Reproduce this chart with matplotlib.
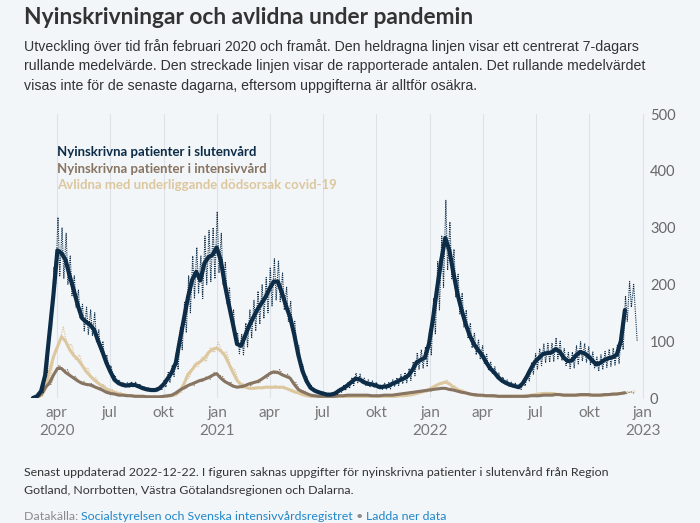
import numpy as np
import pandas as pd
import matplotlib
matplotlib.use("Agg")
import matplotlib.pyplot as plt

# ---------------- data ----------------
start_date = "2020-02-20"

# centred 7-day rolling mean, weekly samples
slutenvard = [
    0, 3, 12, 40, 110, 180, 260, 255, 243, 215,
    190, 163, 141, 134, 129, 120, 100, 82, 62, 46,
    32, 26, 23, 22, 23, 23, 20, 17, 15, 14,
    14, 17, 24, 34, 45, 62, 102, 140, 178, 208,
    222, 207, 237, 248, 252, 265, 243, 200, 164, 130,
    95, 92, 110, 128, 142, 156, 167, 178, 193, 205,
    205, 185, 162, 142, 112, 76, 48, 30, 18, 13,
    10, 8, 6, 6, 8, 13, 17, 22, 28, 34,
    33, 28, 25, 24, 22, 19, 20, 21, 25, 28,
    32, 35, 40, 50, 63, 67, 71, 95, 140, 193,
    242, 282, 260, 220, 183, 155, 130, 110, 95, 85,
    76, 63, 52, 45, 36, 30, 26, 23, 21, 19,
    26, 38, 52, 64, 71, 78, 79, 80, 86, 82,
    71, 65, 66, 75, 81, 79, 74, 66, 59, 62,
    67, 70, 72, 76, 100, 155,
]
intensivvard = [
    0, 1, 7, 18, 26, 40, 52, 52, 45, 40,
    35, 30, 26, 24, 23, 20, 17, 14, 10, 8,
    7, 5, 5, 4, 4, 3, 3, 3, 2, 2,
    2, 2, 3, 4, 5, 9, 14, 18, 22, 25,
    28, 31, 33, 36, 40, 43, 35, 29, 25, 21,
    19, 20, 22, 25, 27, 29, 33, 38, 43, 46,
    45, 41, 38, 35, 24, 15, 11, 8, 5, 4,
    3, 3, 3, 3, 3, 4, 4, 5, 5, 5,
    5, 5, 5, 4, 4, 4, 5, 5, 5, 6,
    7, 8, 9, 10, 11, 12, 13, 14, 15, 16,
    17, 17, 15, 14, 12, 10, 9, 7, 6, 5,
    5, 4, 4, 4, 3, 3, 3, 3, 3, 3,
    3, 3, 4, 4, 4, 5, 5, 5, 6, 6,
    5, 5, 5, 5, 6, 6, 6, 5, 5, 5,
    6, 6, 7, 7, 8, 9,
]
avlidna = [
    0, 1, 5, 15, 45, 72, 90, 108, 100, 85,
    75, 68, 58, 47, 39, 32, 26, 21, 16, 13,
    10, 8, 6, 5, 4, 3, 3, 2, 2, 2,
    2, 2, 2, 3, 4, 6, 12, 25, 42, 50,
    60, 64, 70, 80, 86, 88, 83, 75, 60, 45,
    31, 23, 19, 17, 17, 18, 18, 19, 19, 19,
    19, 19, 17, 14, 11, 9, 6, 4, 3, 2,
    2, 2, 1, 1, 1, 2, 2, 2, 3, 3,
    3, 3, 3, 3, 3, 3, 3, 3, 3, 3,
    4, 4, 5, 6, 8, 10, 12, 15, 19, 23,
    26, 28, 25, 19, 15, 12, 9, 7, 5, 5,
    4, 4, 4, 3, 3, 3, 3, 3, 3, 3,
    3, 4, 5, 6, 7, 8, 8, 8, 7, 6,
    5, 5, 5, 5, 5, 5, 5, 5, 5, 5,
    5, 6, 6, 7, 8, 10,
]

# reported numbers (dashed line): weekday / weekend pairs for slutenvård
slutenvard_rapporterat = [
    0, 1, 4, 3, 16, 10, 55, 45, 140, 120, 230, 200, 318, 215, 300, 210, 290, 200, 250, 180,
    215, 160, 190, 140, 165, 118, 160, 112, 155, 110, 150, 98, 120, 82, 100, 65, 76, 50, 57, 38,
    40, 27, 32, 21, 28, 19, 27, 18, 29, 19, 28, 18, 25, 16, 21, 13, 19, 12, 18, 11,
    18, 11, 22, 14, 31, 19, 45, 27, 58, 38, 80, 50, 125, 85, 170, 115, 215, 150, 250, 175,
    265, 185, 250, 175, 285, 200, 295, 205, 300, 210, 328, 220, 290, 200, 240, 165, 195, 135, 155, 105,
    115, 78, 112, 76, 132, 90, 155, 105, 172, 118, 188, 130, 200, 140, 212, 150, 230, 162, 245, 172,
    242, 170, 220, 155, 195, 135, 170, 118, 135, 92, 92, 62, 58, 40, 37, 24, 23, 14, 16, 10,
    13, 8, 10, 6, 8, 5, 8, 5, 10, 6, 17, 10, 22, 13, 28, 17, 36, 22, 44, 27,
    42, 26, 35, 22, 32, 20, 30, 19, 28, 17, 24, 15, 26, 15, 27, 16, 32, 20, 36, 22,
    41, 25, 45, 27, 52, 31, 64, 39, 80, 50, 85, 52, 90, 55, 120, 75, 175, 112, 240, 155,
    285, 195, 348, 225, 310, 210, 262, 178, 218, 148, 185, 125, 155, 105, 132, 88, 115, 76, 103, 68,
    92, 61, 77, 50, 64, 42, 55, 36, 44, 29, 37, 24, 32, 21, 28, 18, 26, 17, 24, 15,
    32, 21, 46, 30, 63, 42, 78, 51, 87, 57, 95, 62, 96, 63, 97, 64, 106, 69, 100, 66,
    87, 57, 80, 52, 81, 53, 92, 60, 99, 65, 96, 63, 90, 59, 81, 53, 72, 47, 76, 50,
    82, 54, 86, 56, 88, 58, 93, 61, 120, 85, 180, 135, 205, 160, 200, 150,
    100,
]
intensivvard_rapporterat = [
    0, 2, 6, 22, 24, 45, 58, 48, 50, 36,
    38, 27, 29, 21, 26, 17, 19, 12, 12, 6,
    8, 4, 6, 3, 5, 2, 4, 2, 3, 1,
    3, 1, 4, 3, 7, 8, 17, 16, 25, 22,
    32, 28, 37, 33, 45, 40, 38, 26, 28, 18,
    21, 18, 25, 22, 30, 26, 37, 35, 48, 42,
    50, 38, 42, 30, 27, 12, 13, 6, 6, 3,
    4, 2, 4, 2, 4, 3, 5, 4, 6, 4,
    6, 4, 6, 3, 5, 3, 6, 4, 6, 5,
    8, 7, 10, 9, 12, 11, 14, 12, 17, 14,
    19, 15, 17, 12, 13, 8, 10, 6, 7, 4,
    6, 3, 5, 3, 4, 2, 4, 2, 4, 2,
    4, 3, 5, 3, 5, 4, 6, 4, 7, 5,
    6, 4, 6, 4, 7, 5, 7, 4, 6, 4,
    7, 5, 8, 6, 9, 8, 11, 8,
]
avlidna_rapporterat = [
    0, 1, 4, 20, 40, 85, 95, 125, 92, 95,
    68, 76, 52, 53, 34, 36, 22, 24, 13, 15,
    8, 10, 5, 6, 3, 4, 2, 3, 1, 3,
    1, 3, 1, 4, 3, 8, 10, 30, 38, 58,
    55, 72, 64, 88, 80, 98, 78, 82, 55, 50,
    28, 26, 17, 20, 15, 20, 16, 21, 17, 22,
    17, 21, 15, 16, 9, 10, 5, 5, 2, 3,
    1, 3, 1, 2, 1, 3, 1, 3, 2, 4,
    2, 4, 2, 4, 2, 4, 2, 4, 2, 5,
    3, 6, 4, 8, 7, 12, 10, 18, 17, 26,
    24, 32, 22, 21, 13, 14, 7, 8, 4, 6,
    3, 5, 3, 4, 2, 4, 2, 4, 2, 4,
    3, 5, 5, 8, 6, 10, 7, 10, 6, 7,
    4, 6, 4, 6, 4, 6, 4, 6, 4, 6,
    5, 7, 5, 8, 7, 12, 9, 13,
]

tick_dates = ["2020-04-01", "2020-07-01", "2020-10-01", "2021-01-01", "2021-04-01",
              "2021-07-01", "2021-10-01", "2022-01-01", "2022-04-01", "2022-07-01",
              "2022-10-01", "2023-01-01"]
tick_labels = ["apr\n2020", "jul", "okt", "jan\n2021", "apr", "jul", "okt",
               "jan\n2022", "apr", "jul", "okt", "jan\n2023"]
y_ticks = [0, 100, 200, 300, 400, 500]

series_names = ["Nyinskrivna patienter i slutenvård",
                "Nyinskrivna patienter i intensivvård",
                "Avlidna med underliggande dödsorsak covid-19"]

# ---------------- style ----------------
BG = "#f3f6f9"
C_NAVY = "#0c2c47"
C_BROWN = "#877461"
C_BEIGE = "#dcc79e"
FONT = "Lato"

start = pd.Timestamp(start_date)
weeks = start + pd.to_timedelta(np.arange(len(slutenvard)) * 7, unit="D")
n_pairs = (len(slutenvard_rapporterat) - 1) // 2
pair_offsets = np.column_stack([np.arange(n_pairs) * 7 + 1, np.arange(n_pairs) * 7 + 4]).ravel()
raw_offsets = np.append(pair_offsets, (pd.Timestamp("2022-12-22") - start).days)
raw_dates = start + pd.to_timedelta(raw_offsets, unit="D")
weekly_raw_dates = start + pd.to_timedelta(np.arange(len(intensivvard_rapporterat)) * 7 + 3, unit="D")

fig = plt.figure(figsize=(7, 5.23), dpi=100, facecolor=BG)
ax = fig.add_axes([30 / 700, 125 / 523, (643 - 30) / 700, (409 - 125) / 523])
ax.set_facecolor(BG)

dash = (0, (1.0, 1.0))
ax.plot(weekly_raw_dates, avlidna_rapporterat, color=C_BEIGE, lw=0.9, ls=dash, zorder=2)
ax.plot(weeks, avlidna, color=C_BEIGE, lw=2.2, zorder=3, solid_capstyle="round")
ax.plot(weekly_raw_dates, intensivvard_rapporterat, color=C_BROWN, lw=0.9, ls=dash, zorder=4)
ax.plot(weeks, intensivvard, color=C_BROWN, lw=2.2, zorder=5, solid_capstyle="round")
ax.plot(raw_dates, slutenvard_rapporterat, color=C_NAVY, lw=0.8, ls=dash, zorder=6)
ax.plot(weeks, slutenvard, color=C_NAVY, lw=3.0, zorder=7, solid_capstyle="round")

ax.set_xlim(pd.Timestamp("2020-02-15"), pd.Timestamp("2023-01-01"))
ax.set_ylim(0, 500)

ax.set_xticks(pd.to_datetime(tick_dates))
ax.set_xticklabels(tick_labels, fontsize=11, color="#777777", family=FONT,
                   linespacing=1.3)
ax.tick_params(axis="x", length=0, pad=6)
ax.yaxis.tick_right()
ax.set_yticks(y_ticks)
ax.set_yticklabels([str(v) for v in y_ticks], fontsize=10.5, color="#666666", family=FONT)
ax.tick_params(axis="y", length=0, pad=5)

ax.grid(axis="x", color="#dde2e8", lw=0.8)
ax.set_axisbelow(True)
for s in ["top", "left", "bottom"]:
    ax.spines[s].set_visible(False)
ax.spines["right"].set_color("#dde2e8")
ax.spines["right"].set_linewidth(0.8)


def fy(y):
    return 1 - y / 523


# title & subtitle
fig.text(24 / 700, fy(17), "Nyinskrivningar och avlidna under pandemin",
         fontsize=16.4, fontweight="bold", color="#333333", family=FONT, va="center")
fig.text(24 / 700, fy(39),
         "Utveckling över tid från februari 2020 och framåt. Den heldragna linjen visar ett centrerat 7-dagars\n"
         "rullande medelvärde. Den streckade linjen visar de rapporterade antalen. Det rullande medelvärdet\n"
         "visas inte för de senaste dagarna, eftersom uppgifterna är alltför osäkra.",
         fontsize=10.2, color="#333333", family="Liberation Sans", va="top", linespacing=1.5)

# series labels
for name, col, yy in zip(series_names, [C_NAVY, C_BROWN, C_BEIGE], [152, 169, 185]):
    fig.text(57 / 700, fy(yy), name, fontsize=9.5, fontweight="bold", color=col,
             family=FONT, va="center")

# footer
fig.text(24 / 700, fy(467),
         "Senast uppdaterad 2022-12-22. I figuren saknas uppgifter för nyinskrivna patienter i slutenvård från Region\n"
         "Gotland, Norrbotten, Västra Götalandsregionen och Dalarna.",
         fontsize=8.9, color="#333333", family=FONT, va="top", linespacing=1.75)

fs = 8.9
t1 = fig.text(24 / 700, fy(516), "Datakälla: ", fontsize=fs, color="#8a8a8a", family=FONT, va="center")
t2 = ax.annotate("Socialstyrelsen och Svenska intensivvårdsregistret", xy=(1, 0), xycoords=t1,
                 va="bottom", ha="left", fontsize=fs, color="#2187c9", family=FONT, annotation_clip=False)
t3 = ax.annotate(" • ", xy=(1, 0), xycoords=t2, va="bottom", ha="left", fontsize=fs,
                 color="#8a8a8a", family=FONT, annotation_clip=False)
ax.annotate("Ladda ner data", xy=(1, 0), xycoords=t3, va="bottom", ha="left", fontsize=fs,
            color="#2187c9", family=FONT, annotation_clip=False)

fig.savefig("out.png", dpi=100, facecolor=BG)
